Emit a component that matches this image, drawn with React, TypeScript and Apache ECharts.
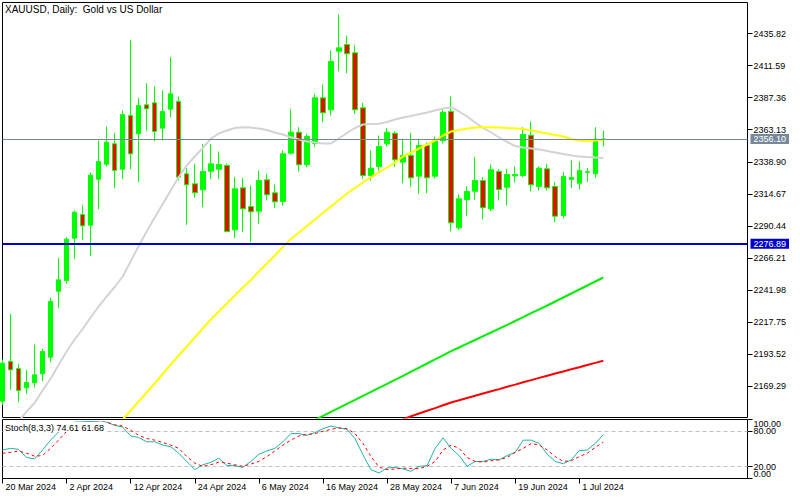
import React, { useEffect, useRef } from "react";
import * as echarts from "echarts";

const FONT = "'Liberation Sans', Arial, sans-serif";

const dates = [
  "20 Mar 2024", "21 Mar 2024", "22 Mar 2024", "25 Mar 2024", "26 Mar 2024", "27 Mar 2024", "28 Mar 2024", "1 Apr 2024",
  "2 Apr 2024", "3 Apr 2024", "4 Apr 2024", "5 Apr 2024", "8 Apr 2024", "9 Apr 2024", "10 Apr 2024", "11 Apr 2024",
  "12 Apr 2024", "15 Apr 2024", "16 Apr 2024", "17 Apr 2024", "18 Apr 2024", "19 Apr 2024", "22 Apr 2024", "23 Apr 2024",
  "24 Apr 2024", "25 Apr 2024", "26 Apr 2024", "29 Apr 2024", "30 Apr 2024", "1 May 2024", "2 May 2024", "3 May 2024",
  "6 May 2024", "7 May 2024", "8 May 2024", "9 May 2024", "10 May 2024", "13 May 2024", "14 May 2024", "15 May 2024",
  "16 May 2024", "17 May 2024", "20 May 2024", "21 May 2024", "22 May 2024", "23 May 2024", "24 May 2024", "27 May 2024",
  "28 May 2024", "29 May 2024", "30 May 2024", "31 May 2024", "3 Jun 2024", "4 Jun 2024", "5 Jun 2024", "6 Jun 2024",
  "7 Jun 2024", "10 Jun 2024", "11 Jun 2024", "12 Jun 2024", "13 Jun 2024", "14 Jun 2024", "17 Jun 2024", "18 Jun 2024",
  "19 Jun 2024", "20 Jun 2024", "21 Jun 2024", "24 Jun 2024", "25 Jun 2024", "26 Jun 2024", "27 Jun 2024", "28 Jun 2024",
  "1 Jul 2024", "2 Jul 2024", "3 Jul 2024", "4 Jul 2024",
];

const opens = [
  2157.96, 2187.96, 2182.67, 2168.08, 2171.86, 2178.66, 2191.21, 2241.08, 2249.17, 2281.13,
  2299.04, 2290.96, 2325.72, 2337.05, 2352.47, 2333.28, 2373.86, 2360.03, 2381.94, 2383.45,
  2364.26, 2378.62, 2384.44, 2329.80, 2322.24, 2317.71, 2331.76, 2333.28, 2336.07, 2287.48,
  2319.22, 2305.09, 2301.54, 2325.26, 2315.44, 2308.87, 2345.37, 2361.24, 2336.83, 2352.70,
  2387.23, 2378.16, 2422.45, 2427.51, 2421.24, 2379.67, 2328.51, 2335.32, 2352.47, 2360.48,
  2338.56, 2343.63, 2327.99, 2351.18, 2327.99, 2354.96, 2376.88, 2288.99, 2310.38, 2316.65,
  2324.74, 2303.35, 2331.54, 2319.67, 2328.29, 2328.51, 2358.97, 2320.20, 2333.58, 2320.20,
  2298.29, 2325.49, 2322.70, 2330.78, 2329.80, 2355.87,
];
const closes = [
  2186.67, 2181.68, 2166.04, 2172.09, 2177.90, 2195.51, 2233.30, 2249.70, 2280.38, 2300.78,
  2290.50, 2328.74, 2339.09, 2353.68, 2332.29, 2374.61, 2344.91, 2381.41, 2378.92, 2361.77,
  2376.88, 2390.25, 2327.23, 2321.49, 2315.44, 2331.54, 2337.36, 2336.83, 2286.20, 2318.46,
  2303.35, 2301.08, 2324.74, 2313.93, 2308.64, 2344.91, 2361.24, 2336.60, 2357.99, 2387.23,
  2375.90, 2414.66, 2425.02, 2420.48, 2378.16, 2328.51, 2334.03, 2350.43, 2361.24, 2340.38,
  2343.63, 2326.78, 2351.18, 2326.78, 2354.59, 2376.35, 2292.77, 2310.91, 2316.42, 2324.74,
  2304.11, 2332.82, 2317.93, 2329.27, 2329.27, 2359.50, 2321.49, 2334.03, 2319.22, 2297.76,
  2327.76, 2327.00, 2332.29, 2331.31, 2356.10, 2356.10,
];
const highs = [
  2189.50, 2224.00, 2186.22, 2181.68, 2200.80, 2197.55, 2236.09, 2266.32, 2281.89, 2302.07,
  2305.84, 2330.78, 2354.96, 2365.54, 2360.48, 2377.63, 2431.06, 2387.23, 2398.26, 2395.77,
  2392.75, 2417.91, 2388.21, 2334.33, 2337.36, 2352.47, 2352.47, 2346.65, 2337.58, 2327.23,
  2326.78, 2320.96, 2332.29, 2329.80, 2321.71, 2347.41, 2378.39, 2365.01, 2360.03, 2390.25,
  2397.28, 2422.98, 2450.18, 2434.31, 2426.75, 2383.45, 2347.41, 2358.74, 2364.26, 2361.99,
  2356.47, 2360.48, 2356.47, 2353.45, 2357.99, 2378.92, 2388.21, 2314.16, 2320.20, 2342.34,
  2327.23, 2336.83, 2333.58, 2333.58, 2335.32, 2365.01, 2369.32, 2335.32, 2337.36, 2323.45,
  2331.01, 2339.85, 2339.09, 2334.33, 2365.01, 2362.52,
];
const lows = [
  2155.00, 2166.57, 2157.20, 2163.55, 2168.54, 2173.07, 2187.43, 2228.54, 2246.67, 2265.57,
  2279.92, 2267.53, 2303.05, 2335.32, 2318.92, 2326.02, 2333.28, 2323.45, 2362.52, 2354.21,
  2354.96, 2372.57, 2324.74, 2291.26, 2311.66, 2304.56, 2326.02, 2326.02, 2285.44, 2281.13,
  2285.67, 2278.11, 2292.01, 2309.62, 2303.80, 2305.84, 2344.38, 2331.54, 2334.79, 2350.43,
  2368.79, 2373.86, 2407.33, 2405.82, 2375.14, 2326.25, 2324.74, 2332.29, 2350.43, 2334.79,
  2322.70, 2320.20, 2314.68, 2315.14, 2326.25, 2352.70, 2286.42, 2287.48, 2297.76, 2310.15,
  2295.49, 2301.54, 2309.62, 2305.84, 2323.22, 2327.23, 2316.42, 2317.18, 2317.18, 2293.22,
  2296.25, 2318.92, 2317.93, 2323.45, 2326.78, 2350.66,
];

// moving averages, each with the bar index where it starts
const maSilverStart = 0;
const maSilver = [
  2128.26, 2135.81, 2142.61, 2150.17, 2156.59, 2166.04, 2174.88, 2185.31, 2195.51, 2204.58,
  2212.52, 2221.21, 2229.52, 2237.08, 2244.25, 2252.19, 2263.52, 2275.24, 2286.20, 2296.78,
  2306.98, 2317.18, 2327.38, 2336.07, 2342.87, 2349.30, 2356.25, 2360.25, 2362.52, 2364.41,
  2365.01, 2364.79, 2364.03, 2362.90, 2361.01, 2359.50, 2357.46, 2355.72, 2354.21, 2353.45,
  2352.70, 2352.70, 2356.47, 2360.63, 2364.41, 2367.05, 2367.43, 2367.58, 2368.94, 2370.83,
  2372.34, 2373.48, 2374.84, 2376.12, 2377.63, 2379.15, 2380.13, 2376.88, 2373.10, 2368.57,
  2364.41, 2361.01, 2357.23, 2353.83, 2350.81, 2349.67, 2348.92, 2348.16, 2347.03, 2345.90,
  2344.76, 2343.63, 2342.87, 2342.42, 2342.12, 2341.74,
];
const maYellowStart = 15;
const maYellow = [
  2144.13, 2150.93, 2157.73, 2164.53, 2171.33, 2178.51, 2185.69, 2192.49, 2199.29, 2206.09,
  2212.89, 2219.69, 2225.74, 2231.79, 2237.83, 2243.88, 2249.54, 2255.97, 2262.01, 2268.06,
  2274.48, 2280.53, 2285.44, 2290.35, 2295.26, 2300.18, 2305.09, 2310.00, 2314.91, 2319.07,
  2323.22, 2327.23, 2331.01, 2334.56, 2338.34, 2342.87, 2345.90, 2348.92, 2351.94, 2354.96,
  2358.74, 2361.77, 2362.90, 2364.03, 2364.79, 2365.01, 2365.01, 2364.79, 2364.41, 2364.03,
  2363.65, 2362.52, 2361.39, 2360.25, 2359.12, 2357.99, 2356.10, 2354.96, 2354.59, 2354.96,
  2355.34,
];
const maGreenStart = 39;
const maGreen = [
  2143.90, 2146.92, 2149.94, 2152.97, 2155.99, 2159.01, 2162.03, 2165.06, 2168.08, 2171.10,
  2174.13, 2177.15, 2180.25, 2183.35, 2186.44, 2189.54, 2192.64, 2195.74, 2198.54, 2201.41,
  2204.20, 2207.07, 2209.87, 2212.74, 2215.61, 2218.56, 2221.51, 2224.46, 2227.40, 2230.27,
  2233.30, 2236.32, 2239.34, 2242.37, 2245.39, 2248.41, 2251.43,
];
const maRedStart = 50;
const maRed = [
  2144.43, 2146.54, 2148.66, 2150.70, 2152.74, 2154.86, 2156.97, 2158.63, 2160.37, 2162.04,
  2163.77, 2165.44, 2167.10, 2168.84, 2170.50, 2172.24, 2173.90, 2175.56, 2177.23, 2178.89,
  2180.47, 2182.06, 2183.65, 2185.31, 2186.90, 2188.48,
];

const stochMain = [
  48.3, 51.1, 49.4, 35.6, 33.3, 48.3, 65.0, 78.9, 91.0, 95.6,
  96.0, 96.7, 95.6, 95.6, 90.0, 87.2, 72.2, 69.4, 62.2, 62.2,
  56.7, 53.9, 42.8, 28.9, 15.0, 23.3, 27.2, 34.4, 22.2, 21.7,
  18.9, 28.9, 41.1, 46.7, 51.1, 62.2, 76.1, 76.1, 73.3, 77.8,
  84.4, 88.9, 85.6, 83.3, 67.8, 40.0, 15.0, 9.4, 17.8, 18.9,
  16.1, 12.2, 20.6, 21.7, 51.1, 68.9, 51.1, 38.9, 20.6, 28.9,
  28.9, 32.8, 31.7, 38.9, 44.4, 65.0, 65.0, 59.4, 41.1, 28.9,
  25.0, 31.7, 47.2, 48.3, 59.4, 74.61,
];
const stochSignal = [
  42.8, 44.4, 46.7, 42.8, 37.8, 38.9, 51.1, 65.0, 80.0, 93.0,
  95.0, 95.0, 95.6, 95.6, 91.0, 88.9, 81.7, 73.3, 67.8, 65.0,
  61.1, 56.7, 51.1, 37.2, 26.1, 20.6, 23.3, 27.8, 26.1, 23.3,
  20.6, 24.4, 28.9, 37.2, 46.7, 56.7, 65.0, 72.2, 74.4, 76.1,
  80.0, 83.3, 85.6, 84.4, 76.1, 59.4, 37.2, 19.4, 15.0, 16.1,
  17.8, 16.7, 16.7, 20.6, 28.9, 48.3, 56.7, 51.1, 35.6, 28.9,
  27.8, 30.0, 31.7, 35.6, 44.4, 51.1, 59.4, 56.7, 48.3, 37.2,
  28.9, 30.0, 37.2, 42.8, 52.8, 61.68,
];

const priceTicks = [2169.29, 2193.52, 2217.75, 2241.98, 2266.21, 2290.44, 2314.67, 2338.9, 2363.13, 2387.36, 2411.59, 2435.82];
const stochLevelTicks = [20, 80];
const stochEdgeTicks = [0, 100];
const stochLevels = [80, 20];
const currentPrice = 2356.1;
const supportLevel = 2276.89;
const TITLE = "XAUUSD, Daily:  Gold vs US Dollar";
const STOCH_TITLE = "Stoch(8,3,3) 74.61 61.68";

const PRICE_MIN = 2145.64;
const PRICE_MAX = 2459.25;
const SLOTS = 94; // visible bar slots across the pane

export default function App() {
  const ref = useRef<HTMLDivElement>(null);
  useEffect(() => {
    if (!ref.current) return;
    const chart = echarts.init(ref.current, null, { renderer: "svg" });
    const cats = Array.from({ length: SLOTS }, (_, i) => (i < dates.length ? dates[i] : ""));
    const candles = opens.map((o, i) => [o, closes[i], lows[i], highs[i]]);
    const pairs = (arr: number[], start: number) => arr.map((v, k) => [k + start, v]);
    const showDate = (i: number) => i % 8 === 0 && i < dates.length;
    const txt = { fontFamily: FONT, fontSize: 9, color: "#000" };
    const fmt2 = (v: number) => v.toFixed(2);

    const maLine = (data: any, color: string) => ({
      type: "line",
      xAxisIndex: 0,
      yAxisIndex: 0,
      data,
      symbol: "none",
      silent: true,
      z: 3,
      lineStyle: { color, width: 2 },
    });

    const priceLabel = (value: number, bg: string) => ({
      show: true,
      position: "end",
      distance: 3,
      formatter: value.toFixed(2),
      backgroundColor: bg,
      color: "#fff",
      padding: [1, 3, 0, 3],
      fontFamily: FONT,
      fontSize: 9,
    });

    const stochAxis = (ticks: number[], extra: any) => ({
      type: "value",
      gridIndex: 1,
      position: "right",
      min: 0,
      max: 100,
      axisLine: { show: false },
      splitLine: { show: false },
      axisTick: { show: true, length: 5, customValues: ticks, lineStyle: { color: "#000" } },
      axisLabel: { ...txt, customValues: ticks, margin: 6, formatter: fmt2, ...extra },
    });

    chart.setOption({
      animation: false,
      backgroundColor: "#fff",
      textStyle: { fontFamily: FONT },
      title: [
        { text: TITLE, left: 5, top: 4, padding: 0, textStyle: { ...txt, fontSize: 10, fontWeight: "normal" } },
        {
          text: STOCH_TITLE,
          left: 4,
          top: 422,
          padding: [1, 1, 0, 1],
          backgroundColor: "#fff",
          textStyle: { ...txt, fontSize: 9, fontWeight: "normal" },
        },
      ],
      grid: [
        { left: 2.5, top: 2.5, width: 745, height: 415, show: true, borderColor: "#000", borderWidth: 1, backgroundColor: "transparent" },
        { left: 2.5, top: 419.5, width: 745, height: 59, show: true, borderColor: "#000", borderWidth: 1, backgroundColor: "transparent" },
      ],
      xAxis: [
        {
          type: "category",
          gridIndex: 0,
          data: cats,
          boundaryGap: false,
          axisLine: { show: false },
          axisTick: { show: false },
          axisLabel: { show: false },
          splitLine: { show: false },
        },
        {
          type: "category",
          gridIndex: 1,
          data: cats,
          boundaryGap: false,
          axisLine: { show: false },
          axisTick: { show: true, interval: showDate, length: 5, lineStyle: { color: "#000" } },
          axisLabel: { ...txt, interval: showDate, align: "left", margin: 4, padding: [0, 0, 0, 3] },
          splitLine: { show: false },
        },
      ],
      yAxis: [
        {
          type: "value",
          gridIndex: 0,
          position: "right",
          min: PRICE_MIN,
          max: PRICE_MAX,
          axisLine: { show: false },
          splitLine: { show: false },
          axisTick: { show: true, length: 5, customValues: priceTicks, lineStyle: { color: "#000" } },
          axisLabel: { ...txt, customValues: priceTicks, margin: 6, formatter: fmt2 },
        },
        stochAxis(stochLevelTicks, {}),
        stochAxis(stochEdgeTicks, {
          showMinLabel: true,
          showMaxLabel: true,
          verticalAlignMinLabel: "bottom",
          verticalAlignMaxLabel: "top",
        }),
      ],
      series: [
        {
          type: "candlestick",
          xAxisIndex: 0,
          yAxisIndex: 0,
          data: candles,
          barWidth: 5,
          clip: false,
          silent: true,
          z: 2,
          itemStyle: {
            color: "#00ff00",
            color0: "#ff0000",
            borderColor: "#00ff00",
            borderColor0: "#00ff00",
            borderWidth: 1,
          },
          markLine: {
            silent: true,
            symbol: ["none", "none"],
            z: 6,
            data: [
              {
                yAxis: currentPrice,
                lineStyle: { color: "#778899", width: 1, type: "solid" },
                label: priceLabel(currentPrice, "#778899"),
              },
              {
                yAxis: supportLevel,
                lineStyle: { color: "#0000cd", width: 2, type: "solid" },
                label: priceLabel(supportLevel, "#0000cd"),
              },
            ],
          },
        },
        maLine(pairs(maSilver, maSilverStart), "#d3d3d3"),
        maLine(pairs(maYellow, maYellowStart), "#ffff00"),
        maLine(pairs(maGreen, maGreenStart), "#00ee00"),
        maLine(pairs(maRed, maRedStart), "#ff0000"),
        {
          type: "line",
          xAxisIndex: 1,
          yAxisIndex: 1,
          data: stochMain,
          symbol: "none",
          silent: true,
          z: 3,
          lineStyle: { color: "#20b2aa", width: 1 },
          markLine: {
            silent: true,
            symbol: ["none", "none"],
            z: 1,
            label: { show: false },
            lineStyle: { color: "#c0c0c0", width: 1, type: [4, 3] },
            data: stochLevels.map((v) => ({ yAxis: v })),
          },
        },
        {
          type: "line",
          xAxisIndex: 1,
          yAxisIndex: 1,
          data: stochSignal,
          symbol: "none",
          silent: true,
          z: 3,
          lineStyle: { color: "#ff0000", width: 1, type: [3, 3] },
        },
      ],
    });
    return () => chart.dispose();
  }, []);
  return (
    <div
      ref={ref}
      style={{ position: "absolute", left: 0, top: 0, width: 800, height: 500, background: "#fff" }}
    />
  );
}
